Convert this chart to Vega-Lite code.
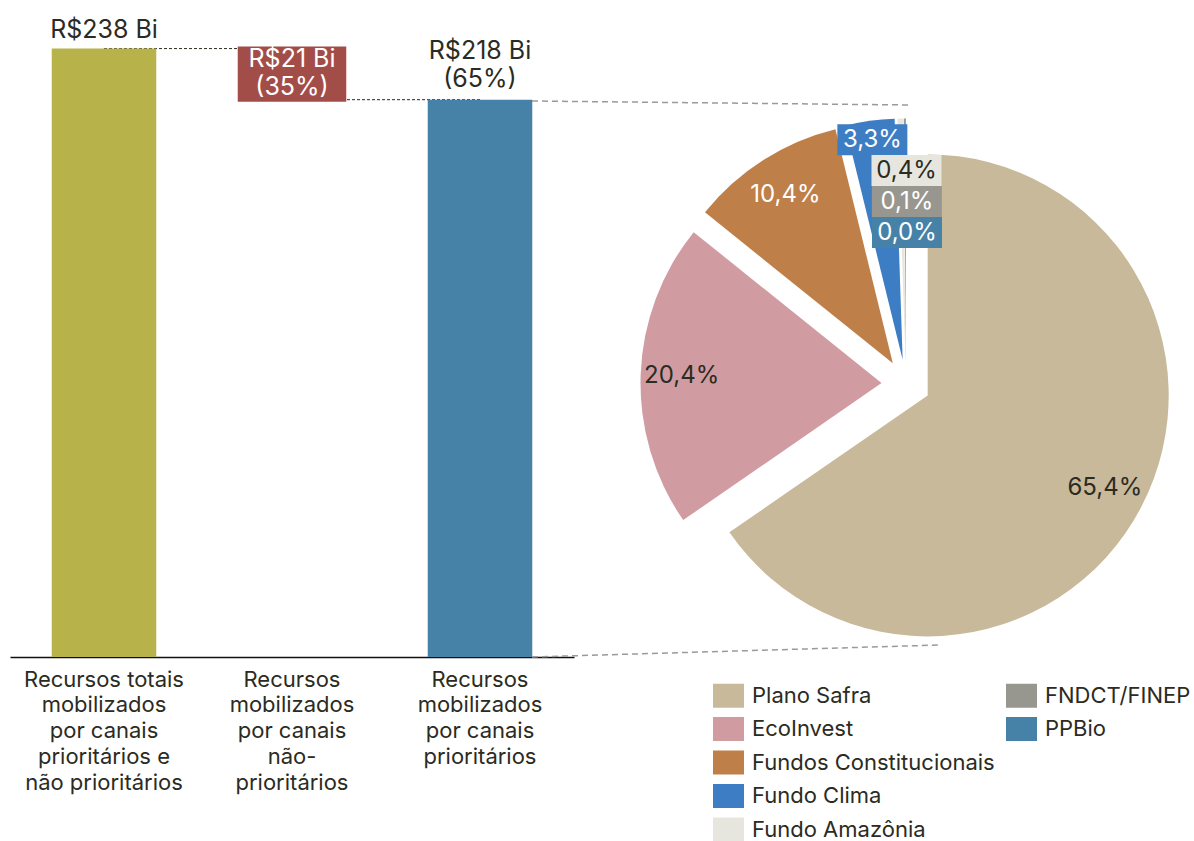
{
  "$schema": "https://vega.github.io/schema/vega-lite/v6.json",
  "width": 1194,
  "height": 657,
  "autosize": {"type": "none"},
  "padding": {"left": 0, "top": 0, "right": 0, "bottom": 184},
  "background": "white",
  "config": {
    "font": "Inter",
    "view": {"stroke": null},
    "text": {"font": "Inter"}
  },
  "layer": [
    {
      "layer": [
        {
          "data": {"values": [
            {"from": "Recursos totais\nmobilizados\npor canais\nprioritários e\nnão prioritários", "to": "Recursos\nmobilizados\npor canais\nnão-\nprioritários", "v": 238},
            {"from": "Recursos\nmobilizados\npor canais\nnão-\nprioritários", "to": "Recursos\nmobilizados\npor canais\nprioritários", "v": 218}
          ]},
          "mark": {"type": "rule", "color": "#2b2b22", "strokeWidth": 1, "strokeDash": [3, 2]},
          "encoding": {
            "x": {"field": "from", "type": "nominal", "sort": null,
              "scale": {"domain": ["Recursos totais\nmobilizados\npor canais\nprioritários e\nnão prioritários", "Recursos\nmobilizados\npor canais\nnão-\nprioritários", "Recursos\nmobilizados\npor canais\nprioritários"], "range": [10, 574], "paddingInner": 0.444, "paddingOuter": 0.222},
              "axis": {"title": null, "labelAngle": 0, "ticks": false, "domainColor": "#111111", "domainWidth": 1.5,
                "labelExpr": "split(datum.label, '\\n')", "labelFont": "Inter", "labelFontSize": 22, "labelColor": "#2b2b22",
                "labelLineHeight": 25.75, "labelPadding": 12, "labelBaseline": "top", "labelLimit": 0, "labelOverlap": false}},
            "x2": {"field": "to"},
            "y": {"field": "v", "type": "quantitative", "scale": {"domain": [0, 257], "nice": false}, "axis": null}
          }
        },
        {
          "data": {"values": [
            {"cat": "Recursos totais\nmobilizados\npor canais\nprioritários e\nnão prioritários", "start": 0, "end": 238, "label": "R$238 Bi"},
            {"cat": "Recursos\nmobilizados\npor canais\nnão-\nprioritários", "start": 218, "end": 238, "label": "R$21 Bi\n(35%)"},
            {"cat": "Recursos\nmobilizados\npor canais\nprioritários", "start": 0, "end": 218, "label": "R$218 Bi\n(65%)"}
          ]},
          "encoding": {
            "x": {"field": "cat", "type": "nominal", "sort": null,
              "scale": {"domain": ["Recursos totais\nmobilizados\npor canais\nprioritários e\nnão prioritários", "Recursos\nmobilizados\npor canais\nnão-\nprioritários", "Recursos\nmobilizados\npor canais\nprioritários"], "range": [10, 574], "paddingInner": 0.444, "paddingOuter": 0.222},
              "axis": {"title": null, "labelAngle": 0, "ticks": false, "domainColor": "#111111", "domainWidth": 1.5,
                "labelExpr": "split(datum.label, '\\n')", "labelFont": "Inter", "labelFontSize": 22, "labelColor": "#2b2b22",
                "labelLineHeight": 25.75, "labelPadding": 12, "labelBaseline": "top", "labelLimit": 0, "labelOverlap": false}}
          },
          "layer": [
            {
              "mark": {"type": "bar", "stroke": "#a34d48"},
              "encoding": {
                "y": {"field": "start", "type": "quantitative", "scale": {"domain": [0, 257], "nice": false}, "axis": null},
                "y2": {"field": "end"},
                "color": {"field": "cat", "type": "nominal", "legend": null,
                  "scale": {"domain": ["Recursos totais\nmobilizados\npor canais\nprioritários e\nnão prioritários", "Recursos\nmobilizados\npor canais\nnão-\nprioritários", "Recursos\nmobilizados\npor canais\nprioritários"], "range": ["#b8b24b", "#a34d48", "#4682a8"]}},
                "strokeWidth": {"condition": {"test": "datum.start > 0", "value": 4}, "value": 0}
              }
            },
            {
              "transform": [{"filter": "datum.start == 0 && indexof(datum.label, '\\n') < 0"}],
              "mark": {"type": "text", "fontSize": 25, "lineHeight": 28, "lineBreak": "\n", "baseline": "alphabetic", "align": "center", "dy": -11, "color": "#2b2b22"},
              "encoding": {
                "y": {"field": "end", "type": "quantitative", "scale": {"domain": [0, 257], "nice": false}, "axis": null},
                "text": {"field": "label"}
              }
            },
            {
              "transform": [{"filter": "datum.start == 0 && indexof(datum.label, '\\n') >= 0"}],
              "mark": {"type": "text", "fontSize": 25, "lineHeight": 28, "lineBreak": "\n", "baseline": "alphabetic", "align": "center", "dy": -41, "color": "#2b2b22"},
              "encoding": {
                "y": {"field": "end", "type": "quantitative", "scale": {"domain": [0, 257], "nice": false}, "axis": null},
                "text": {"field": "label"}
              }
            },
            {
              "transform": [{"filter": "datum.start > 0"}],
              "mark": {"type": "text", "fontSize": 25, "lineHeight": 28, "lineBreak": "\n", "baseline": "alphabetic", "align": "center", "dy": 18, "color": "#ffffff"},
              "encoding": {
                "y": {"field": "end", "type": "quantitative", "scale": {"domain": [0, 257], "nice": false}, "axis": null},
                "text": {"field": "label"}
              }
            }
          ]
        }
      ]
    },
    {
      "layer": [
        {
          "data": {"values": [
            {"x1": -374, "y1": 283, "x2": 4, "y2": 279},
            {"x1": -374, "y1": -273, "x2": 34, "y2": -261}
          ]},
          "mark": {"type": "rule", "color": "#9a9a9a", "strokeWidth": 1.5, "strokeDash": [6, 4]},
          "encoding": {
            "x": {"field": "x1", "type": "quantitative", "scale": {"domain": [-906, 288], "nice": false, "zero": false}, "axis": null},
            "y": {"field": "y1", "type": "quantitative", "scale": {"domain": [-273, 384], "nice": false, "zero": false}, "axis": null},
            "x2": {"field": "x2"},
            "y2": {"field": "y2"}
          }
        },
        {
          "data": {"values": [
            {"cat": "Plano Safra", "pct": 65.4, "ord": 1},
            {"cat": "EcoInvest", "pct": 20.4, "ord": 2},
            {"cat": "Fundos Constitucionais", "pct": 10.4, "ord": 3},
            {"cat": "Fundo Clima", "pct": 3.3, "ord": 4},
            {"cat": "Fundo Amazônia", "pct": 0.4, "ord": 5},
            {"cat": "FNDCT/FINEP", "pct": 0.1, "ord": 6},
            {"cat": "PPBio", "pct": 0.03, "ord": 7}
          ]},
          "transform": [
            {"stack": "pct", "groupby": [], "sort": [{"field": "ord", "order": "ascending"}], "offset": "normalize", "as": ["s0", "s1"]},
            {"calculate": "PI * (datum.s0 + datum.s1)", "as": "a"},
            {"calculate": "24.5 * sin(datum.a)", "as": "ex"},
            {"calculate": "24.5 * cos(datum.a)", "as": "ey"},
            {"calculate": "datum.ord <= 3 ? datum.ex + 200 * sin(datum.a) : datum.ord == 4 ? datum.ex + 222 * sin(datum.a) : datum.ex + 1", "as": "lx"},
            {"calculate": "datum.ord <= 3 ? datum.ey + 200 * cos(datum.a) : datum.ord == 4 ? datum.ey + 222 * cos(datum.a) : datum.ey + 220 - 31 * (datum.ord - 4)", "as": "ly"},
            {"calculate": "replace(format(datum.pct, '.1f'), '.', ',') + '%'", "as": "lab"}
          ],
          "layer": [
            {
              "mark": {"type": "arc", "radius": 241},
              "encoding": {
                "theta": {"field": "s0", "type": "quantitative", "stack": null, "scale": {"domain": [0, 1], "range": [0, 6.283185307179586]}},
                "theta2": {"field": "s1"},
                "x": {"field": "ex", "type": "quantitative", "scale": {"domain": [-906, 288], "nice": false, "zero": false}, "axis": null},
                "y": {"field": "ey", "type": "quantitative", "scale": {"domain": [-273, 384], "nice": false, "zero": false}, "axis": null},
                "color": {"field": "cat", "type": "nominal",
                  "scale": {"domain": ["Plano Safra", "EcoInvest", "Fundos Constitucionais", "Fundo Clima", "Fundo Amazônia", "FNDCT/FINEP", "PPBio", "_a", "_b", "_c"],
                    "range": ["#c8b99a", "#d09ca1", "#bf7f48", "#3d7dc3", "#e6e6de", "#979790", "#4682a8", "#ffffff", "#ffffff", "#ffffff"]},
                  "legend": {"orient": "none", "legendX": 713, "legendY": 680, "columns": 2, "title": null,
                    "symbolType": "M-1,-0.774H1V0.774H-1Z", "symbolSize": 961, "symbolStrokeWidth": 0, "symbolOpacity": 1,
                    "labelFont": "Inter", "labelFontSize": 22, "labelColor": "#2b2b22", "labelOffset": 8, "labelLimit": 0,
                    "rowPadding": 5.5, "columnPadding": 11, "padding": 0,
                    "labelExpr": "indexof(datum.label, '_') == 0 ? '' : datum.label"}}
              }
            },
            {
              "transform": [{"filter": "datum.ord >= 4"}],
              "mark": {"type": "point", "shape": "M-1,-0.443H1V0.443H-1Z", "size": 4900, "filled": true, "opacity": 1, "strokeWidth": 0},
              "encoding": {
                "x": {"field": "lx", "type": "quantitative", "scale": {"domain": [-906, 288], "nice": false, "zero": false}, "axis": null},
                "y": {"field": "ly", "type": "quantitative", "scale": {"domain": [-273, 384], "nice": false, "zero": false}, "axis": null},
                "fill": {"field": "cat", "type": "nominal", "legend": null,
                  "scale": {"domain": ["Plano Safra", "EcoInvest", "Fundos Constitucionais", "Fundo Clima", "Fundo Amazônia", "FNDCT/FINEP", "PPBio"],
                    "range": ["#c8b99a", "#d09ca1", "#bf7f48", "#3d7dc3", "#e6e6de", "#979790", "#4682a8"]}}
              }
            },
            {
              "mark": {"type": "text", "fontSize": 24, "align": "center", "baseline": "middle"},
              "encoding": {
                "x": {"field": "lx", "type": "quantitative", "scale": {"domain": [-906, 288], "nice": false, "zero": false}, "axis": null},
                "y": {"field": "ly", "type": "quantitative", "scale": {"domain": [-273, 384], "nice": false, "zero": false}, "axis": null},
                "text": {"field": "lab"},
                "color": {"condition": {"test": "datum.cat == 'Fundos Constitucionais' || datum.cat == 'Fundo Clima' || datum.cat == 'FNDCT/FINEP' || datum.cat == 'PPBio'", "value": "#ffffff"}, "value": "#2b2b22"}
              }
            }
          ]
        }
      ]
    }
  ],
  "resolve": {"scale": {"x": "independent", "y": "independent", "color": "independent", "fill": "independent"}}
}
